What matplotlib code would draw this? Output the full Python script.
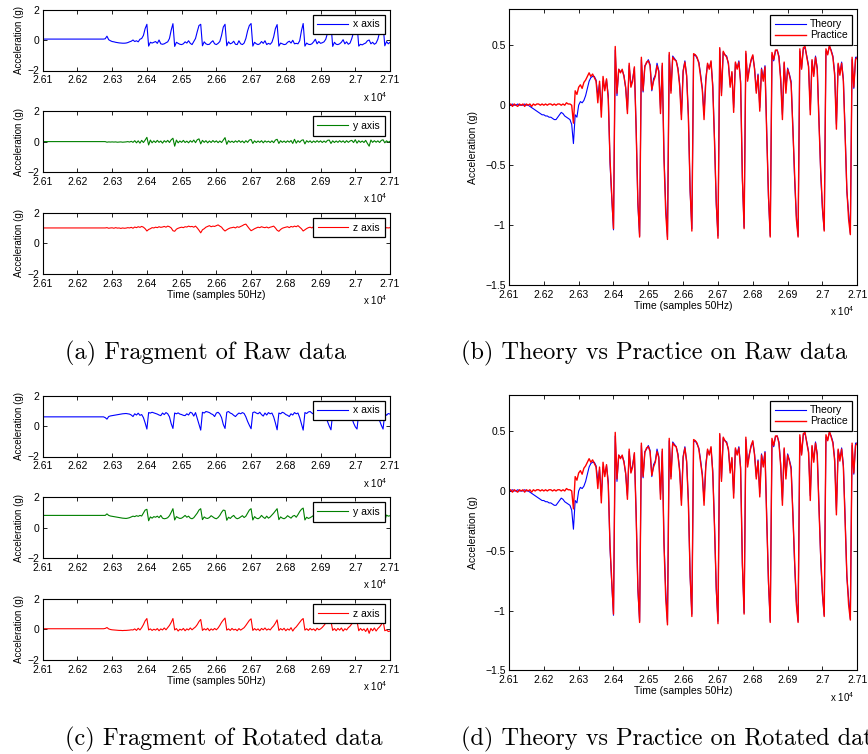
import numpy as np
import matplotlib
matplotlib.use('Agg')
import matplotlib.pyplot as plt

plt.rcParams['font.family'] = ['Liberation Sans', 'DejaVu Sans']
plt.rcParams['mathtext.fontset'] = 'custom'
plt.rcParams['mathtext.rm'] = 'Liberation Sans'
plt.rcParams['legend.fancybox'] = False

# one reading every 5 samples, 26100 .. 27100
samples = np.arange(26100, 27101, 5)
x_ticks = np.arange(26100, 27101, 100)
x_tick_labels = ['2.61', '2.62', '2.63', '2.64', '2.65', '2.66',
                 '2.67', '2.68', '2.69', '2.7', '2.71']

# raw accelerometer axes (g)
raw_x = [
    0.06, 0.06, 0.06, 0.06, 0.06, 0.06, 0.06, 0.06, 0.06, 0.06, 0.06, 0.06, 0.06, 0.06, 0.06, 0.06, 0.06, 0.06, 0.06, 0.06,
    0.06, 0.06, 0.06, 0.06, 0.06, 0.06, 0.06, 0.06, 0.06, 0.06, 0.06, 0.06, 0.06, 0.06, 0.06, 0.06, 0.08, 0.25, 0.02, -0.05,
    -0.10, -0.12, -0.15, -0.17, -0.19, -0.20, -0.21, -0.21, -0.20, -0.17, -0.12, -0.08, 0.00, -0.10, -0.05, -0.12, 0.05, 0.10, 0.30, 0.75,
    1.03, -0.40, -0.15, -0.20, -0.15, -0.10, -0.22, 0.00, -0.25, -0.28, -0.25, -0.18, -0.12, 0.10, 0.65, 1.07, -0.42, -0.15, -0.22, -0.28,
    -0.30, -0.25, -0.12, -0.20, -0.05, -0.22, -0.30, -0.10, 0.10, 0.55, 0.95, 1.03, -0.38, -0.12, -0.25, -0.30, -0.28, -0.15, -0.05, -0.25,
    -0.30, -0.22, -0.10, 0.30, 0.85, 1.03, -0.38, -0.12, -0.25, -0.20, -0.08, -0.28, -0.30, -0.05, -0.25, -0.30, -0.20, 0.10, 0.60, 0.95,
    1.08, -0.40, -0.15, -0.25, -0.30, -0.25, -0.10, -0.22, -0.05, -0.30, -0.22, -0.28, -0.15, 0.20, 0.75, 1.01, -0.40, -0.20, -0.25, -0.30,
    -0.28, -0.15, -0.08, -0.20, -0.02, -0.25, -0.22, -0.25, -0.05, 0.60, 1.08, -0.40, -0.20, -0.28, -0.30, -0.25, -0.12, 0.05, -0.25, -0.10,
    -0.22, -0.18, -0.12, 0.05, 0.45, 0.90, 1.05, -0.42, -0.15, -0.28, -0.30, -0.25, -0.15, 0.02, -0.25, -0.12, -0.28, -0.20, 0.10, 0.50,
    0.90, 1.05, -0.40, -0.28, -0.32, -0.25, -0.20, -0.05, 0.00, -0.25, -0.15, -0.28, -0.20, 0.05, 0.50, 0.90, 1.03, -0.38, -0.10, -0.25,
    -0.15,
]
raw_y = [
    0.00, 0.00, 0.00, 0.00, 0.00, 0.00, 0.00, 0.00, 0.00, 0.00, 0.00, 0.00, 0.00, 0.00, 0.00, 0.00, 0.00, 0.00, 0.00, 0.00,
    0.00, 0.00, 0.00, 0.00, 0.00, 0.00, 0.00, 0.00, 0.00, 0.00, 0.00, 0.00, 0.00, 0.00, 0.00, 0.00, 0.00, -0.04, -0.02, -0.03,
    -0.02, -0.03, -0.02, -0.04, -0.03, -0.02, -0.04, -0.03, -0.02, 0.00, -0.03, 0.02, -0.05, 0.06, -0.08, 0.05, -0.10, 0.08, -0.06, 0.10,
    0.28, -0.22, 0.10, -0.08, 0.05, -0.06, 0.08, -0.05, 0.04, -0.10, 0.06, -0.04, 0.08, -0.06, 0.12, 0.22, -0.30, 0.10, -0.08, 0.04,
    -0.05, 0.08, -0.06, 0.03, -0.08, 0.06, -0.04, 0.10, -0.07, 0.12, 0.18, -0.15, 0.08, -0.05, 0.06, -0.08, 0.04, -0.06, 0.07, -0.04,
    0.05, -0.07, 0.04, -0.06, 0.10, 0.26, -0.18, 0.06, -0.05, 0.03, -0.06, 0.05, -0.04, 0.07, -0.05, 0.04, -0.08, 0.06, -0.05, 0.10,
    0.14, -0.12, 0.05, -0.06, 0.04, -0.05, 0.06, -0.08, 0.05, -0.04, 0.03, -0.06, 0.05, -0.07, 0.10, 0.15, -0.12, 0.06, -0.05, 0.04,
    -0.06, 0.05, -0.04, 0.07, -0.12, 0.15, -0.10, 0.06, -0.05, 0.08, 0.12, -0.15, 0.06, -0.04, 0.05, -0.07, 0.04, -0.05, 0.06, -0.04,
    0.05, -0.06, 0.04, -0.05, 0.08, 0.10, -0.12, 0.05, -0.06, 0.04, -0.05, 0.06, -0.04, 0.05, -0.07, 0.06, -0.05, 0.04, 0.08, -0.06,
    0.12, -0.10, 0.06, -0.05, 0.04, -0.06, 0.08, -0.12, -0.30, 0.10, -0.05, 0.06, -0.04, 0.05, -0.06, 0.08, 0.12, -0.08, 0.05, -0.04,
    0.02,
]
raw_z = [
    1.00, 1.00, 1.00, 1.00, 1.00, 1.00, 1.00, 1.00, 1.00, 1.00, 1.00, 1.00, 1.00, 1.00, 1.00, 1.00, 1.00, 1.00, 1.00, 1.00,
    1.00, 1.00, 1.00, 1.00, 1.00, 1.00, 1.00, 1.00, 1.00, 1.00, 1.00, 1.00, 1.00, 1.00, 1.00, 1.00, 1.00, 1.02, 0.98, 1.00,
    1.01, 0.98, 1.02, 0.99, 1.00, 0.97, 1.00, 0.98, 0.99, 1.02, 1.00, 1.04, 0.98, 1.06, 1.02, 1.08, 1.04, 1.10, 1.05, 0.95,
    0.80, 0.90, 0.95, 1.02, 1.00, 1.05, 1.02, 1.08, 1.04, 1.06, 1.10, 1.05, 1.12, 1.08, 1.00, 0.82, 0.78, 0.92, 0.98, 1.02,
    1.05, 1.02, 1.08, 1.06, 1.12, 1.08, 1.10, 1.05, 1.12, 1.00, 0.85, 0.68, 0.88, 0.95, 1.05, 1.10, 1.15, 1.08, 1.12, 1.10,
    1.15, 1.20, 1.12, 1.05, 0.90, 0.80, 0.88, 0.95, 1.00, 1.02, 1.05, 1.00, 1.08, 1.04, 1.10, 1.15, 1.22, 1.25, 1.10, 0.95,
    0.82, 0.88, 0.95, 1.00, 1.05, 1.02, 1.08, 1.04, 1.02, 1.06, 1.00, 1.05, 1.08, 1.12, 1.00, 0.85, 0.78, 0.90, 0.98, 1.02,
    1.05, 1.08, 1.02, 1.10, 1.06, 1.12, 1.08, 1.15, 1.05, 0.95, 0.80, 0.88, 0.96, 1.02, 1.05, 1.00, 1.08, 1.04, 1.10, 1.05,
    1.10, 1.06, 1.12, 1.05, 0.95, 0.85, 0.78, 0.90, 0.98, 1.02, 1.05, 1.00, 1.06, 1.03, 1.08, 1.05, 1.10, 1.06, 1.02, 0.92,
    0.82, 0.78, 0.92, 1.00, 1.04, 1.02, 1.06, 1.00, 1.05, 1.08, 1.04, 1.10, 1.06, 1.08, 1.00, 0.90, 0.80, 0.95, 1.02, 1.00,
    1.02,
]

# same readings after rotation to the vehicle frame (g)
rot_x = [
    0.60, 0.60, 0.60, 0.60, 0.60, 0.60, 0.60, 0.60, 0.60, 0.60, 0.60, 0.60, 0.60, 0.60, 0.60, 0.60, 0.60, 0.60, 0.60, 0.60,
    0.60, 0.60, 0.60, 0.60, 0.60, 0.60, 0.60, 0.60, 0.60, 0.60, 0.60, 0.60, 0.60, 0.60, 0.60, 0.60, 0.55, 0.45, 0.62, 0.66,
    0.68, 0.70, 0.72, 0.74, 0.76, 0.78, 0.80, 0.81, 0.82, 0.80, 0.78, 0.72, 0.62, 0.80, 0.72, 0.84, 0.70, 0.75, 0.55, 0.20,
    -0.20, 0.88, 0.85, 0.90, 0.86, 0.82, 0.78, 0.72, 0.68, 0.85, 0.75, 0.88, 0.80, 0.60, 0.15, -0.16, 0.85, 0.80, 0.86, 0.78,
    0.75, 0.70, 0.68, 0.80, 0.72, 0.90, 0.85, 0.65, 0.88, 0.50, 0.10, -0.27, 0.90, 0.85, 0.95, 0.92, 0.88, 0.80, 0.75, 0.62,
    0.85, 0.90, 0.78, 0.55, 0.10, -0.16, 0.90, 0.95, 0.85, 0.80, 0.70, 0.62, 0.75, 0.85, 0.80, 0.88, 0.82, 0.60, 0.30, 0.05,
    -0.18, 0.88, 0.92, 0.85, 0.80, 0.90, 0.75, 0.65, 0.85, 0.72, 0.88, 0.80, 0.85, 0.60, 0.20, -0.25, 0.85, 0.80, 0.90, 0.85,
    0.75, 0.70, 0.62, 0.80, 0.72, 0.88, 0.80, 0.85, 0.55, 0.15, -0.27, 0.88, 0.82, 0.92, 0.95, 0.85, 0.78, 0.68, 0.85, 0.72,
    0.88, 0.80, 0.82, 0.60, 0.30, 0.00, -0.25, 0.85, 0.80, 0.90, 0.88, 0.82, 0.72, 0.65, 0.80, 0.70, 0.85, 0.80, 0.55, 0.20,
    -0.05, -0.20, 0.85, 0.90, 0.82, 0.78, 0.70, 0.62, 0.80, 0.72, 0.85, 0.80, 0.82, 0.60, 0.35, 0.05, -0.20, 0.85, 0.70, 0.82,
    0.78,
]
rot_y = [
    0.80, 0.80, 0.80, 0.80, 0.80, 0.80, 0.80, 0.80, 0.80, 0.80, 0.80, 0.80, 0.80, 0.80, 0.80, 0.80, 0.80, 0.80, 0.80, 0.80,
    0.80, 0.80, 0.80, 0.80, 0.80, 0.80, 0.80, 0.80, 0.80, 0.80, 0.80, 0.80, 0.80, 0.80, 0.80, 0.80, 0.80, 0.90, 0.80, 0.76,
    0.74, 0.72, 0.70, 0.68, 0.66, 0.64, 0.62, 0.61, 0.60, 0.62, 0.65, 0.70, 0.75, 0.72, 0.78, 0.74, 0.80, 0.76, 0.95, 1.15,
    1.20, 0.45, 0.70, 0.62, 0.72, 0.68, 0.75, 0.65, 0.80, 0.62, 0.58, 0.60, 0.65, 0.78, 1.00, 1.24, 0.50, 0.72, 0.65, 0.60,
    0.62, 0.70, 0.80, 0.68, 0.75, 0.62, 0.58, 0.65, 0.80, 0.95, 1.15, 1.24, 0.52, 0.70, 0.62, 0.60, 0.66, 0.78, 0.70, 0.62,
    0.58, 0.66, 0.80, 1.00, 1.15, 1.12, 0.48, 0.68, 0.60, 0.72, 0.80, 0.65, 0.58, 0.62, 0.70, 0.78, 0.66, 0.75, 0.95, 1.15,
    1.24, 0.50, 0.72, 0.62, 0.58, 0.65, 0.80, 0.68, 0.60, 0.75, 0.62, 0.70, 0.82, 0.95, 1.10, 1.24, 0.52, 0.70, 0.62, 0.58,
    0.65, 0.78, 0.70, 0.62, 0.75, 0.80, 0.68, 0.85, 1.05, 1.20, 1.28, 0.50, 0.68, 0.60, 0.65, 0.72, 0.80, 0.62, 0.70, 0.66,
    0.60, 0.72, 0.80, 0.90, 1.05, 1.15, 1.20, 0.50, 0.72, 0.62, 0.58, 0.66, 0.80, 0.70, 0.62, 0.75, 0.68, 0.80, 0.95, 1.10,
    1.20, 1.18, 0.50, 0.70, 0.62, 0.58, 0.65, 0.78, 0.70, 0.60, 0.72, 0.66, 0.80, 0.70, 0.85, 1.05, 1.18, 0.50, 0.82, 0.75,
    0.78,
]
rot_z = [
    0.03, 0.03, 0.03, 0.03, 0.03, 0.03, 0.03, 0.03, 0.03, 0.03, 0.03, 0.03, 0.03, 0.03, 0.03, 0.03, 0.03, 0.03, 0.03, 0.03,
    0.03, 0.03, 0.03, 0.03, 0.03, 0.03, 0.03, 0.03, 0.03, 0.03, 0.03, 0.03, 0.03, 0.03, 0.03, 0.03, 0.05, 0.11, 0.02, -0.02,
    -0.04, -0.05, -0.06, -0.07, -0.08, -0.08, -0.09, -0.08, -0.08, -0.07, -0.06, -0.04, -0.05, 0.02, -0.08, 0.06, -0.05, 0.10, 0.30, 0.55,
    0.70, -0.05, 0.02, -0.08, 0.00, -0.06, 0.04, -0.10, 0.02, -0.05, 0.08, -0.04, 0.10, 0.25, 0.45, 0.70, -0.05, 0.04, -0.12, 0.00,
    -0.06, 0.05, -0.10, 0.02, -0.05, 0.08, -0.04, 0.06, 0.15, 0.30, 0.50, 0.64, -0.08, 0.03, -0.05, 0.06, -0.10, 0.02, -0.06, 0.05,
    -0.04, 0.08, 0.25, 0.45, 0.60, 0.73, -0.06, 0.02, -0.08, 0.05, -0.05, 0.00, -0.10, 0.04, -0.06, 0.02, 0.10, 0.25, 0.42, 0.58,
    0.68, -0.08, 0.04, -0.06, 0.02, -0.10, 0.05, -0.04, 0.08, -0.06, 0.02, -0.05, 0.10, 0.22, 0.40, 0.61, -0.08, 0.04, -0.05, 0.06,
    -0.10, 0.02, -0.06, 0.10, -0.12, 0.05, 0.15, 0.30, 0.45, 0.60, 0.70, -0.06, 0.03, -0.08, 0.05, -0.05, 0.02, -0.10, 0.06, -0.04,
    0.02, 0.12, 0.25, 0.40, 0.48, 0.52, 0.52, -0.08, 0.04, -0.10, 0.05, -0.06, 0.08, -0.12, 0.03, -0.05, 0.10, 0.20, 0.35, 0.45,
    0.50, 0.52, -0.10, 0.05, -0.08, 0.02, -0.15, 0.06, -0.27, 0.05, -0.10, 0.08, -0.12, 0.04, 0.15, 0.30, 0.57, -0.10, -0.05, -0.15,
    -0.12,
]

# expected vs measured acceleration (g)
theory = [
    0.00, 0.00, 0.01, 0.00, 0.00, 0.01, 0.00, 0.00, 0.00, 0.01, 0.00, 0.00, -0.01, -0.02, -0.03, -0.04, -0.05, -0.06, -0.07, -0.08,
    -0.08, -0.09, -0.09, -0.10, -0.10, -0.11, -0.12, -0.12, -0.10, -0.08, -0.06, -0.07, -0.09, -0.10, -0.11, -0.12, -0.16, -0.32, -0.08, -0.10,
    0.00, 0.03, 0.02, 0.04, 0.08, 0.14, 0.20, 0.23, 0.24, 0.24, 0.21, 0.08, 0.18, -0.04, 0.20, 0.14, 0.21, 0.08, -0.48, -0.78,
    -1.04, 0.46, 0.08, 0.30, 0.28, 0.29, 0.25, 0.14, -0.04, 0.33, 0.16, 0.22, 0.31, -0.18, -0.83, -1.09, 0.38, 0.11, 0.33, 0.35,
    0.38, 0.34, 0.12, 0.22, 0.25, 0.35, 0.29, -0.03, 0.33, -0.42, -0.84, -1.10, 0.42, 0.12, 0.41, 0.39, 0.37, 0.31, 0.18, -0.08,
    0.29, 0.37, 0.24, -0.08, -0.72, -1.03, 0.41, 0.42, 0.39, 0.36, 0.26, 0.14, -0.08, 0.22, 0.34, 0.31, 0.36, 0.17, -0.28, -0.83,
    -1.09, 0.47, 0.10, 0.44, 0.42, 0.41, 0.34, 0.17, 0.27, -0.02, 0.35, 0.31, 0.37, 0.20, -0.62, -1.02, 0.43, 0.22, 0.31, 0.37,
    0.41, 0.31, 0.12, 0.26, -0.02, 0.31, 0.22, 0.33, -0.22, -0.78, -1.09, 0.42, 0.37, 0.45, 0.46, 0.41, 0.23, -0.08, 0.35, 0.13,
    0.31, 0.26, 0.20, -0.18, -0.62, -0.92, -1.09, 0.45, 0.31, 0.47, 0.48, 0.41, 0.33, -0.04, 0.37, 0.26, 0.41, 0.31, -0.12, -0.58,
    -0.88, -1.04, 0.45, 0.43, 0.49, 0.46, 0.41, 0.27, -0.16, 0.34, 0.27, 0.36, 0.22, -0.22, -0.72, -0.90, -1.07, 0.38, 0.14, 0.40,
    0.40,
]
practice = [
    0.00, 0.01, -0.01, 0.01, 0.00, -0.01, 0.01, 0.00, 0.01, -0.01, 0.01, 0.00, 0.01, -0.01, 0.01, 0.00, 0.01, 0.01, 0.00, 0.01,
    0.00, 0.01, 0.00, 0.01, 0.01, 0.00, 0.01, 0.00, 0.01, 0.01, 0.00, 0.01, 0.00, 0.02, 0.01, 0.01, 0.00, -0.15, 0.12, 0.09,
    0.15, 0.17, 0.14, 0.19, 0.21, 0.24, 0.27, 0.24, 0.26, 0.23, 0.20, 0.02, 0.20, -0.10, 0.24, 0.12, 0.22, 0.05, -0.45, -0.75,
    -1.03, 0.49, 0.10, 0.30, 0.27, 0.30, 0.24, 0.15, -0.07, 0.35, 0.15, 0.20, 0.32, -0.20, -0.80, -1.10, 0.40, 0.12, 0.32, 0.36,
    0.37, 0.33, 0.13, 0.20, 0.24, 0.33, 0.28, -0.07, 0.35, -0.45, -0.90, -1.12, 0.44, 0.10, 0.40, 0.38, 0.37, 0.30, 0.16, -0.12,
    0.28, 0.36, 0.25, -0.10, -0.70, -1.05, 0.43, 0.42, 0.40, 0.35, 0.24, 0.13, -0.12, 0.20, 0.35, 0.30, 0.37, 0.15, -0.30, -0.80,
    -1.11, 0.48, 0.08, 0.45, 0.42, 0.40, 0.35, 0.15, 0.28, -0.06, 0.36, 0.30, 0.36, 0.18, -0.60, -1.03, 0.45, 0.20, 0.30, 0.38,
    0.42, 0.30, 0.10, 0.25, -0.05, 0.30, 0.20, 0.32, -0.25, -0.75, -1.10, 0.44, 0.38, 0.46, 0.46, 0.40, 0.21, -0.12, 0.36, 0.10,
    0.30, 0.25, 0.18, -0.20, -0.60, -0.95, -1.10, 0.47, 0.30, 0.48, 0.49, 0.40, 0.32, -0.08, 0.38, 0.24, 0.40, 0.30, -0.15, -0.55,
    -0.85, -1.05, 0.47, 0.42, 0.50, 0.45, 0.40, 0.25, -0.20, 0.35, 0.25, 0.35, 0.20, -0.25, -0.70, -0.95, -1.08, 0.40, 0.15, 0.38,
    0.40,
]

W, H = 868, 754
LABEL_SIZE = 7.5


def px_axes(fig, left, top, right, bottom):
    """Add axes given pixel edges measured from the top-left corner."""
    return fig.add_axes([left / W, 1 - bottom / H, (right - left) / W, (bottom - top) / H])


def style_axes(ax, ylim, yticks):
    ax.set_xlim(samples[0], samples[-1])
    ax.set_ylim(*ylim)
    ax.set_xticks(x_ticks)
    ax.set_xticklabels(x_tick_labels)
    ax.set_yticks(yticks)
    ax.tick_params(direction='in', top=True, right=True, length=3, width=0.6,
                   labelsize=LABEL_SIZE, pad=2.5)
    ax.tick_params(axis='x', pad=3.5)
    for spine in ax.spines.values():
        spine.set_linewidth(0.8)
    # MATLAB-style exponent under the right end of the x axis
    ax.annotate('x 10$^{4}$', xy=(1, 0), xycoords='axes fraction', xytext=(-2, -19),
                textcoords='offset points', ha='right', va='center', fontsize=7)


def add_legend(ax, **kw):
    leg = ax.legend(loc='upper right', fontsize=LABEL_SIZE, borderaxespad=0.5,
                    borderpad=0.45, framealpha=1, **kw)
    leg.get_frame().set_edgecolor('black')
    leg.get_frame().set_linewidth(0.9)
    return leg


def plot_components(fig, tops, series, with_time_label=True):
    """Three stacked panels, one per accelerometer axis."""
    for i, (top, (values, color, label)) in enumerate(zip(tops, series)):
        ax = px_axes(fig, 42.7, top, 390, top + 61)
        ax.plot(samples, values, color=color, lw=0.8, label=label)
        style_axes(ax, (-2, 2), [-2, 0, 2])
        ax.set_ylabel('Acceleration (g)', fontsize=7)
        ax.yaxis.set_label_coords(-0.055, 0.5)
        add_legend(ax, handlelength=2.9, handletextpad=0.55)
        if with_time_label and i == len(tops) - 1:
            ax.set_xlabel('Time (samples 50Hz)', fontsize=LABEL_SIZE)
            ax.xaxis.set_label_coords(0.5, -0.27)


def plot_comparison(fig, top, bottom):
    ax = px_axes(fig, 509, top, 857.3, bottom)
    ax.plot(samples, theory, color='blue', lw=0.8, label='Theory')
    ax.plot(samples, practice, color='red', lw=1.0, label='Practice')
    style_axes(ax, (-1.5, 0.8), [-1.5, -1, -0.5, 0, 0.5])
    ax.set_yticklabels(['\u22121.5', '\u22121', '\u22120.5', '0', '0.5'])
    ax.set_ylabel('Acceleration (g)', fontsize=LABEL_SIZE)
    ax.yaxis.set_label_coords(-0.088, 0.5)
    ax.set_xlabel('Time (samples 50Hz)', fontsize=LABEL_SIZE)
    ax.xaxis.set_label_coords(0.5, -0.058)
    add_legend(ax, handlelength=3.0, handletextpad=0.35, labelspacing=0.1)


def main():
    fig = plt.figure(figsize=(W / 100, H / 100), dpi=100)

    plot_components(fig, [9.5, 111.1, 212.7],
                    [(raw_x, 'blue', 'x axis'),
                     (raw_y, (0, 0.5, 0), 'y axis'),
                     (raw_z, 'red', 'z axis')])
    plot_components(fig, [395.5, 497.1, 598.7],
                    [(rot_x, 'blue', 'x axis'),
                     (rot_y, (0, 0.5, 0), 'y axis'),
                     (rot_z, 'red', 'z axis')])
    plot_comparison(fig, 9.3, 285)
    plot_comparison(fig, 395.3, 670.3)

    captions = [
        (65, 359, '(a) Fragment of Raw data'),
        (461, 359, '(b) Theory vs Practice on Raw data'),
        (65, 745, '(c) Fragment of Rotated data'),
        (461, 745, '(d) Theory vs Practice on Rotated data'),
    ]
    for x, y, text in captions:
        fig.text(x / W, 1 - y / H, text, family='cmr10', fontsize=17.5,
                 ha='left', va='baseline')

    fig.savefig('out.png', dpi=100)


if __name__ == '__main__':
    main()
